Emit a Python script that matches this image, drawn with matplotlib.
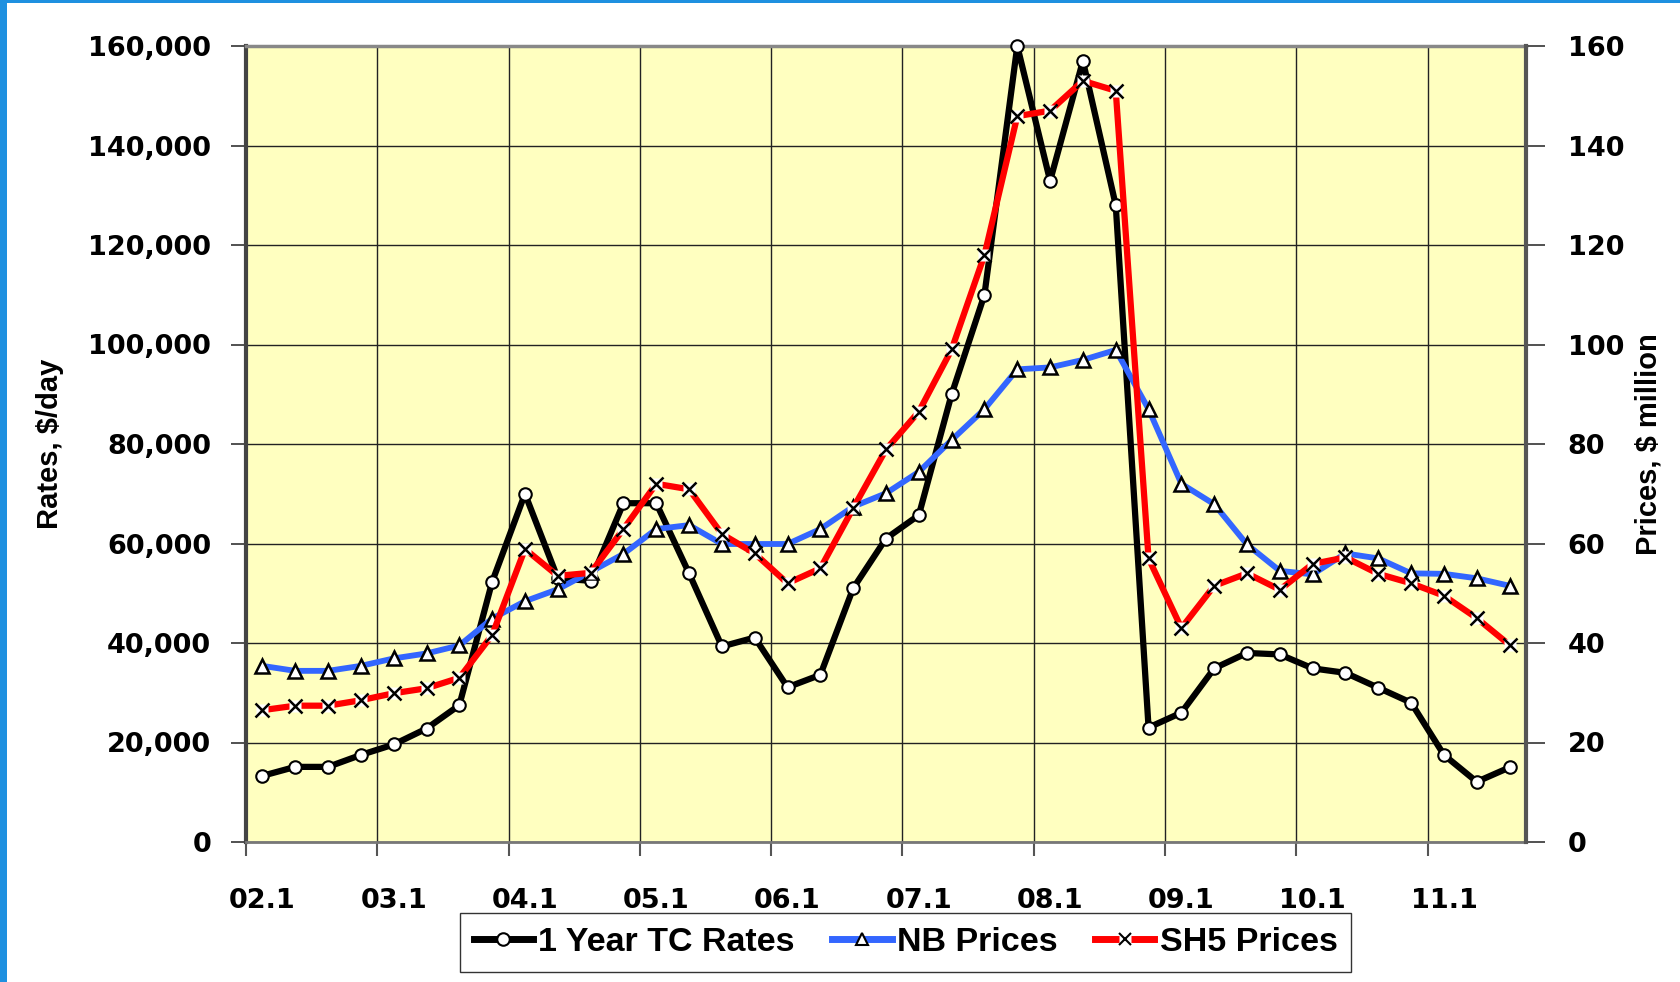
import matplotlib
matplotlib.use('Agg')
import matplotlib.pyplot as plt
from matplotlib.lines import Line2D
from matplotlib.legend_handler import HandlerTuple
from matplotlib.patches import Rectangle
from matplotlib.ticker import FuncFormatter, FixedLocator
import numpy as np

# ---------------- data ----------------
quarters = ['02.1', '02.2', '02.3', '02.4', '03.1', '03.2', '03.3', '03.4',
            '04.1', '04.2', '04.3', '04.4', '05.1', '05.2', '05.3', '05.4',
            '06.1', '06.2', '06.3', '06.4', '07.1', '07.2', '07.3', '07.4',
            '08.1', '08.2', '08.3', '08.4', '09.1', '09.2', '09.3', '09.4',
            '10.1', '10.2', '10.3', '10.4', '11.1', '11.2', '11.3']
tick_labels = ['02.1', '03.1', '04.1', '05.1', '06.1', '07.1', '08.1',
               '09.1', '10.1', '11.1']

tc_rates = [13300, 15100, 15100, 17500, 19600, 22800, 27500, 52300,
            70000, 53000, 52500, 68100, 68100, 54000, 39300, 41100,
            31100, 33600, 51000, 61000, 65700, 90000, 110000, 160000,
            132900, 157000, 128000, 23000, 26000, 34900, 38000, 37700,
            34900, 34000, 31000, 28000, 17500, 12100, 15000]
nb_prices = [35.4, 34.4, 34.4, 35.4, 36.9, 37.9, 39.5, 44.9,
             48.4, 50.8, 54.3, 57.9, 62.9, 63.7, 59.9, 59.9,
             59.9, 62.9, 67.4, 70.1, 74.4, 80.8, 87.0, 95.0,
             95.4, 96.9, 98.9, 87.0, 72.0, 67.9, 59.8, 54.5,
             53.8, 58.0, 57.0, 54.0, 53.9, 53.0, 51.5]
sh5_prices = [26.5, 27.4, 27.4, 28.5, 29.9, 30.9, 33.0, 41.6,
              58.9, 53.5, 54.1, 62.9, 72.0, 70.9, 61.9, 58.0,
              52.0, 55.0, 67.1, 78.9, 86.5, 99.0, 118.0, 145.9,
              147.0, 153.0, 151.0, 57.0, 43.0, 51.5, 54.0, 50.7,
              55.9, 57.2, 53.9, 52.0, 49.5, 45.0, 39.6]

series_names = ['1 Year TC Rates', 'NB Prices', 'SH5 Prices']

# ---------------- figure ----------------
W, H, DPI = 1680, 982, 100
fig = plt.figure(figsize=(W / DPI, H / DPI), dpi=DPI, facecolor='white')

# blue frame on left/top edges
fig.patches.append(Rectangle((0, 0), 7 / W, 1, transform=fig.transFigure,
                             facecolor='#1E90E0', edgecolor='none', zorder=0))
fig.patches.append(Rectangle((0, 1 - 3 / H), 1, 3 / H, transform=fig.transFigure,
                             facecolor='#1E90E0', edgecolor='none', zorder=0))

left, right, top, bottom = 246, 1526, 46, 842
ax = fig.add_axes([left / W, 1 - bottom / H, (right - left) / W, (bottom - top) / H])
ax.set_facecolor('#FFFFC0')
ax2 = ax.twinx()

n = len(quarters)
x = np.arange(n) + 0.5

tick_font = dict(family='DejaVu Sans', weight='bold', size=19.5)
title_font = dict(family='Liberation Sans', weight='bold', size=21)

# ---- primary axis: rates ----
ax.set_xlim(0, n)
ax.set_ylim(0, 160000)
ax.yaxis.set_major_locator(FixedLocator(np.arange(0, 160001, 20000)))
ax.yaxis.set_major_formatter(FuncFormatter(lambda v, p: f'{int(v):,}'))
ax.xaxis.set_major_locator(FixedLocator(np.arange(0, n, 4)))
ax.xaxis.set_major_formatter(FuncFormatter(lambda v, p: ''))
lab_pos = [quarters.index(t) + 0.5 for t in tick_labels]
ax.xaxis.set_minor_locator(FixedLocator(lab_pos))
ax.xaxis.set_minor_formatter(FuncFormatter(lambda v, p: tick_labels[lab_pos.index(v)] if v in lab_pos else ''))
ax.tick_params(axis='x', which='major', length=10, width=1.5, color='#555555')
ax.tick_params(axis='x', which='minor', length=0, pad=33)
ax.tick_params(axis='y', which='major', length=11, width=1.2, color='#333333', pad=14)
for lbl in ax.get_xticklabels(minor=True) + ax.get_yticklabels():
    lbl.set_fontfamily(tick_font['family'])
    lbl.set_fontweight('bold')
    lbl.set_fontsize(tick_font['size'])
ax.grid(True, which='major', color='#222222', linewidth=1.0)
ax.set_axisbelow(True)

ax.plot(x, tc_rates, color='black', linewidth=4.5, marker='o', markersize=9,
        markerfacecolor='white', markeredgecolor='black', markeredgewidth=1.5,
        clip_on=False, zorder=3, solid_joinstyle='round')

ax.set_ylabel('Rates, $/day', fontdict=title_font)
ax.yaxis.set_label_coords((64 - left) / (right - left), 0.5)

ax.spines['left'].set_color('#444444'); ax.spines['left'].set_linewidth(3)
ax.spines['top'].set_color('#888888'); ax.spines['top'].set_linewidth(2.5)
ax.spines['bottom'].set_color('#777777'); ax.spines['bottom'].set_linewidth(2)
ax.spines['right'].set_visible(False)

# ---- secondary axis: prices ----
ax2.set_ylim(0, 160)
ax2.yaxis.set_major_locator(FixedLocator(np.arange(0, 161, 20)))
ax2.yaxis.set_major_formatter(FuncFormatter(lambda v, p: f'{int(v)}'))
ax2.tick_params(axis='y', which='major', length=14, width=1.2, color='#333333', pad=16)
for lbl in ax2.get_yticklabels():
    lbl.set_fontfamily(tick_font['family'])
    lbl.set_fontweight('bold')
    lbl.set_fontsize(tick_font['size'])
for s in ['left', 'top', 'bottom']:
    ax2.spines[s].set_visible(False)
ax2.spines['right'].set_color('#555555'); ax2.spines['right'].set_linewidth(3)

ax2.plot(x, nb_prices, color='#3366FF', linewidth=4.2, marker='^', markersize=10,
         markerfacecolor='white', markeredgecolor='black', markeredgewidth=1.8,
         clip_on=False, zorder=3, solid_joinstyle='round')
ax2.plot(x, sh5_prices, color='#FF0000', linewidth=4.5, marker='s', markersize=8,
         markerfacecolor='white', markeredgecolor='none', clip_on=False, zorder=4,
         solid_joinstyle='round')
ax2.plot(x, sh5_prices, linestyle='none', marker='x', markersize=10,
         markeredgecolor='black', markeredgewidth=1.8, clip_on=False, zorder=5)

ax2.set_ylabel('Prices, $ million', fontdict=title_font, rotation=90)
ax2.yaxis.set_label_coords((1634 - left) / (right - left), 0.5)

# ---- legend ----
h1 = Line2D([], [], color='black', linewidth=5, marker='o', markersize=9,
            markerfacecolor='white', markeredgecolor='black', markeredgewidth=1.5)
h2 = Line2D([], [], color='#3366FF', linewidth=5, marker='^', markersize=8,
            markerfacecolor='white', markeredgecolor='black', markeredgewidth=1.5)
h3a = Line2D([], [], color='#FF0000', linewidth=5, marker='s', markersize=8,
             markerfacecolor='white', markeredgecolor='none')
h3b = Line2D([], [], linestyle='none', marker='x', markersize=8,
             markeredgecolor='black', markeredgewidth=1.5)
leg = fig.legend([h1, h2, (h3a, h3b)], series_names, ncol=3, loc='center',
                 bbox_to_anchor=((454 + 1357) / 2 / W, 1 - 942.5 / H),
                 handler_map={tuple: HandlerTuple(ndivide=1, pad=0)},
                 prop=dict(family='Liberation Sans', weight='bold', size=24.5),
                 frameon=True, fancybox=False, edgecolor='black',
                 handlelength=1.75, handletextpad=0.15, columnspacing=1.1,
                 borderpad=0.4, borderaxespad=0)
leg.get_frame().set_linewidth(1.0)

fig.savefig('out.png', dpi=DPI, facecolor='white')
